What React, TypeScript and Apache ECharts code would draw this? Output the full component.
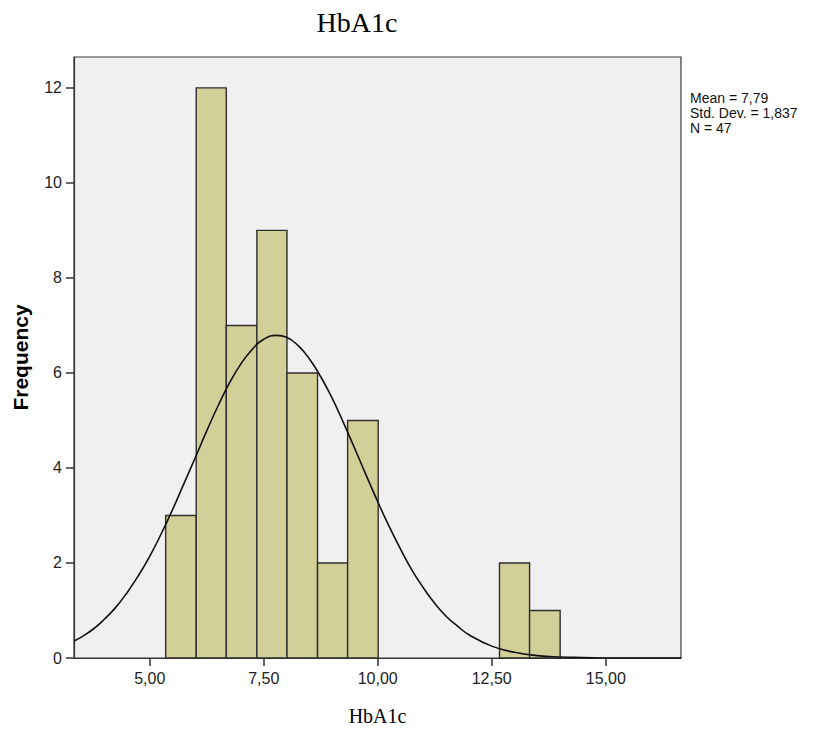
import React, { useEffect, useRef } from 'react';
import * as echarts from 'echarts';

// Histogram bin edges (HbA1c) and frequencies
const binEdges = [5.35, 6.02, 6.68, 7.35, 8.01, 8.68, 9.34, 10.01, 10.67, 11.34, 12.0, 12.67, 13.33, 14.0];
const frequencies = [3, 12, 7, 9, 6, 2, 5, 0, 0, 0, 0, 2, 1];

// Normal curve (x, frequency)
const curveX = [3.34, 3.5, 3.75, 4, 4.25, 4.5, 4.75, 5, 5.25, 5.5, 5.75, 6, 6.25, 6.5, 6.75, 7, 7.25, 7.5, 7.79, 8, 8.25, 8.5, 8.75, 9, 9.25, 9.5, 9.75, 10, 10.25, 10.5, 10.75, 11, 11.25, 11.5, 11.75, 12, 12.5, 13, 13.5, 14, 14.5, 15, 16, 16.65];
const curveY = [0.36, 0.44, 0.6, 0.81, 1.06, 1.37, 1.73, 2.14, 2.61, 3.12, 3.67, 4.22, 4.78, 5.31, 5.79, 6.19, 6.5, 6.71, 6.79, 6.75, 6.58, 6.3, 5.92, 5.47, 4.95, 4.4, 3.84, 3.29, 2.77, 2.29, 1.85, 1.48, 1.15, 0.88, 0.67, 0.49, 0.25, 0.12, 0.05, 0.02, 0.01, 0.0, 0.0, 0.0];

const xTickValues = [5, 7.5, 10, 12.5, 15];
const yTickValues = [0, 2, 4, 6, 8, 10, 12];
const statsLines = ['Mean = 7,79', 'Std. Dev. = 1,837', 'N = 47'];
const chartTitle = 'HbA1c';
const xName = 'HbA1c';
const yName = 'Frequency';

export default function App() {
  const ref = useRef<HTMLDivElement>(null);

  useEffect(() => {
    if (!ref.current) return;
    const chart = echarts.init(ref.current, null, { renderer: 'svg' });

    const barData: number[][] = [];
    frequencies.forEach((f, i) => {
      if (f > 0) barData.push([binEdges[i], binEdges[i + 1], f]);
    });
    const curveData = curveX.map((x, i) => [x, curveY[i]]);

    const option: any = {
      animation: false,
      backgroundColor: '#ffffff',
      grid: {
        left: 74,
        top: 57,
        width: 607,
        height: 601,
        show: true,
        backgroundColor: '#f0f0f0',
        borderColor: '#3a3a3a',
        borderWidth: 1.2,
        containLabel: false,
        outerBoundsMode: 'none',
      },
      xAxis: {
        type: 'value',
        min: 3.34,
        max: 16.65,
        name: xName,
        nameLocation: 'middle',
        nameGap: 48,
        nameTextStyle: { fontFamily: '"Liberation Serif", serif', fontSize: 20, color: '#000' },
        axisLine: { show: true, onZero: false, lineStyle: { color: '#333', width: 1.2 } },
        axisTick: { show: true, length: 8, customValues: xTickValues, lineStyle: { color: '#333', width: 1.5 } },
        axisLabel: {
          customValues: xTickValues,
          margin: 12,
          fontFamily: '"Liberation Sans", Arial, sans-serif',
          fontSize: 16,
          color: '#222',
          formatter: (v: number) => v.toFixed(2).replace('.', ','),
        },
        splitLine: { show: false },
      },
      yAxis: {
        type: 'value',
        min: 0,
        max: 12.65,
        name: yName,
        nameLocation: 'middle',
        nameGap: 43,
        nameRotate: 90,
        nameTextStyle: { fontFamily: '"Liberation Sans", Arial, sans-serif', fontSize: 21, fontWeight: 'bold', color: '#000' },
        axisLine: { show: true, lineStyle: { color: '#333', width: 1.2 } },
        axisTick: { show: true, length: 8, customValues: yTickValues, lineStyle: { color: '#333', width: 1.5 } },
        axisLabel: {
          customValues: yTickValues,
          margin: 12,
          fontFamily: '"Liberation Sans", Arial, sans-serif',
          fontSize: 16,
          color: '#222',
          formatter: (v: number) => String(v),
        },
        splitLine: { show: false },
      },
      graphic: [
        {
          type: 'text',
          x: 357,
          y: 22.5,
          style: {
            text: chartTitle,
            font: '28px "Liberation Serif", serif',
            fill: '#000',
            align: 'center',
            verticalAlign: 'middle',
          },
        },
        {
          type: 'text',
          x: 690,
          y: 90,
          style: {
            text: statsLines.join('\n'),
            font: '14px "Liberation Sans", Arial, sans-serif',
            lineHeight: 15,
            fill: '#111',
            align: 'left',
            verticalAlign: 'top',
          },
        },
      ],
      series: [
        {
          type: 'custom',
          data: barData,
          encode: { x: [0, 1], y: 2 },
          renderItem: (params: any, api: any) => {
            const x0 = api.value(0);
            const x1 = api.value(1);
            const y = api.value(2);
            const p0 = api.coord([x0, y]);
            const p1 = api.coord([x1, 0]);
            return {
              type: 'rect',
              shape: { x: p0[0], y: p0[1], width: p1[0] - p0[0], height: p1[1] - p0[1] },
              style: { fill: '#d3cf98', stroke: '#2e2e2e', lineWidth: 1.4 },
            };
          },
          z: 2,
        },
        {
          type: 'line',
          data: curveData,
          smooth: true,
          showSymbol: false,
          symbol: 'none',
          clip: true,
          lineStyle: { color: '#111', width: 1.6 },
          z: 3,
        },
      ],
    };

    chart.setOption(option);
    return () => chart.dispose();
  }, []);

  return (
    <div
      ref={ref}
      style={{ position: 'absolute', left: 0, top: 0, width: 819, height: 731 }}
    />
  );
}
